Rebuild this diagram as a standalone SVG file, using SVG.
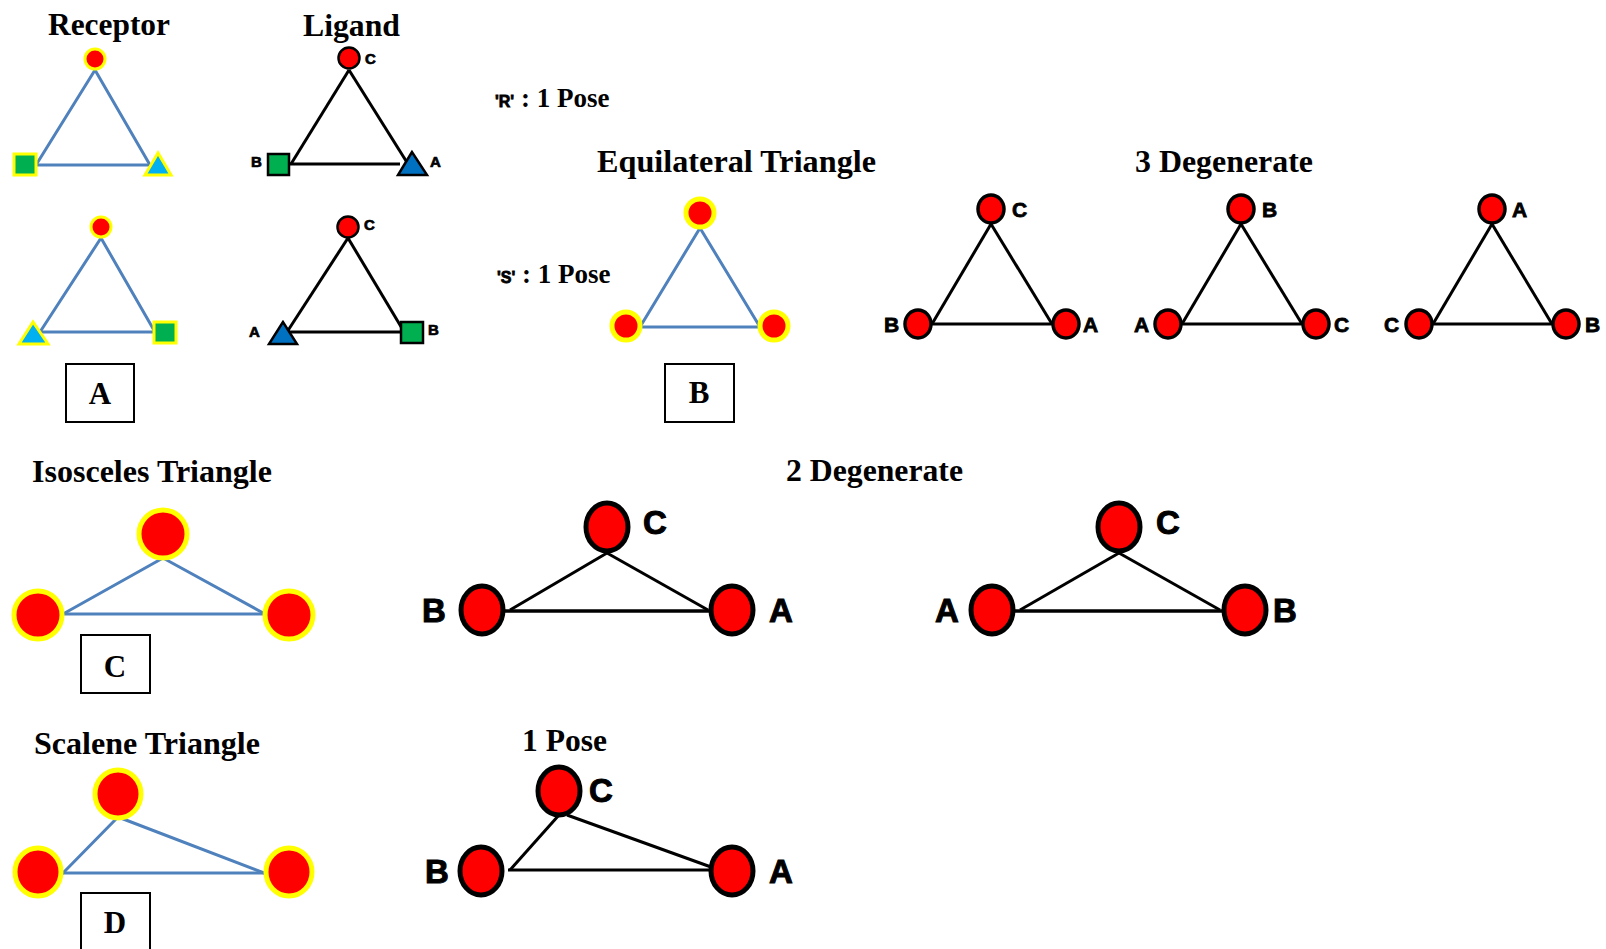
<svg xmlns="http://www.w3.org/2000/svg" width="1606" height="949" viewBox="0 0 1606 949">
<style>
.title{font-family:"Liberation Serif","Times New Roman",serif;font-weight:bold;font-size:31px;fill:#000}
.pose{font-family:"Liberation Serif","Times New Roman",serif;font-weight:bold;font-size:27px;fill:#000}
.q{font-family:"Liberation Sans",Arial,sans-serif;font-weight:bold;font-size:16px;stroke:#000;stroke-width:0.8}
.lbls{font-family:"Liberation Sans",Arial,sans-serif;font-weight:bold;font-size:15px;fill:#000;stroke:#000;stroke-width:0.7}
.lblm{font-family:"Liberation Sans",Arial,sans-serif;font-weight:bold;font-size:21px;fill:#000;stroke:#000;stroke-width:0.8}
.lblb{font-family:"Liberation Sans",Arial,sans-serif;font-weight:bold;font-size:33px;fill:#000;stroke:#000;stroke-width:1}
.boxl{font-family:"Liberation Serif","Times New Roman",serif;font-weight:bold;font-size:31px;fill:#000;text-anchor:middle}
.box{fill:#fff;stroke:#000;stroke-width:2}
.blue{stroke:#4f81bd;stroke-width:3;fill:none;stroke-linecap:round}
.blk{stroke:#000;stroke-width:3;fill:none}
.blk4{stroke:#000;stroke-width:3.5;fill:none}
.rc{fill:#ff0000;stroke:#ffff00;stroke-width:3}
.rcb{fill:#ff0000;stroke:#ffff00;stroke-width:5}
.rg{fill:#00b050;stroke:#ffff00;stroke-width:3}
.rt{fill:#00b0f0;stroke:#ffff00;stroke-width:3;stroke-linejoin:miter}
.lc{fill:#ff0000;stroke:#000;stroke-width:2.5}
.lg{fill:#00b050;stroke:#000;stroke-width:2.5}
.lt{fill:#0070c0;stroke:#000;stroke-width:2.5}
.bc{fill:#ff0000;stroke:#000;stroke-width:3.5}
.bc4{fill:#ff0000;stroke:#000;stroke-width:5}
</style>

<g id="titles">
<text class="title" x="48" y="35" textLength="122" lengthAdjust="spacingAndGlyphs">Receptor</text>
<text class="title" x="303" y="36" textLength="97" lengthAdjust="spacingAndGlyphs">Ligand</text>
<text class="pose" x="495" y="107"><tspan class="q">'R'</tspan> : 1 Pose</text>
<text class="pose" x="497" y="283"><tspan class="q">'S'</tspan> : 1 Pose</text>
<text class="title" x="597" y="172" textLength="279" lengthAdjust="spacingAndGlyphs">Equilateral Triangle</text>
<text class="title" x="1135" y="172" textLength="178" lengthAdjust="spacingAndGlyphs">3 Degenerate</text>
<text class="title" x="32" y="482" textLength="240" lengthAdjust="spacingAndGlyphs">Isosceles Triangle</text>
<text class="title" x="786" y="481" textLength="177" lengthAdjust="spacingAndGlyphs">2 Degenerate</text>
<text class="title" x="34" y="754" textLength="226" lengthAdjust="spacingAndGlyphs">Scalene Triangle</text>
<text class="title" x="522" y="751" textLength="85" lengthAdjust="spacingAndGlyphs">1 Pose</text>
</g>

<g id="connectors">
<line class="blue" x1="95" y1="70" x2="36" y2="165"/>
<line class="blue" x1="36" y1="165" x2="148" y2="165"/>
<line class="blue" x1="95" y1="70" x2="150" y2="165"/>
<line class="blk" x1="349" y1="70" x2="291" y2="164"/>
<line class="blk" x1="289" y1="164" x2="400" y2="164"/>
<line class="blk" x1="349" y1="70" x2="408" y2="164"/>
<line class="blue" x1="101" y1="238" x2="40" y2="332"/>
<line class="blue" x1="40" y1="332" x2="154" y2="332"/>
<line class="blue" x1="101" y1="238" x2="155" y2="332"/>
<line class="blk" x1="348" y1="238" x2="287" y2="332"/>
<line class="blk" x1="287" y1="332" x2="401" y2="332"/>
<line class="blk" x1="348" y1="238" x2="403" y2="330"/>
<line class="blue" x1="700" y1="228" x2="640" y2="327"/>
<line class="blue" x1="640" y1="327" x2="760" y2="327"/>
<line class="blue" x1="700" y1="228" x2="760" y2="327"/>
<line class="blk" x1="991" y1="224" x2="932" y2="324"/>
<line class="blk" x1="932" y1="324" x2="1052" y2="324"/>
<line class="blk" x1="991" y1="224" x2="1052" y2="324"/>
<line class="blk" x1="1241" y1="224" x2="1182" y2="324"/>
<line class="blk" x1="1182" y1="324" x2="1302" y2="324"/>
<line class="blk" x1="1241" y1="224" x2="1302" y2="324"/>
<line class="blk" x1="1492" y1="224" x2="1433" y2="324"/>
<line class="blk" x1="1433" y1="324" x2="1552" y2="324"/>
<line class="blk" x1="1492" y1="224" x2="1552" y2="324"/>
<line class="blue" x1="163" y1="558" x2="63" y2="614"/>
<line class="blue" x1="63" y1="614" x2="265" y2="614"/>
<line class="blue" x1="163" y1="558" x2="265" y2="614"/>
<line class="blk" x1="607" y1="553" x2="510" y2="610"/>
<line class="blk4" x1="505" y1="611" x2="712" y2="611"/>
<line class="blk" x1="607" y1="553" x2="708" y2="610"/>
<line class="blk" x1="1119" y1="553" x2="1020" y2="610"/>
<line class="blk4" x1="1015" y1="611" x2="1222" y2="611"/>
<line class="blk" x1="1119" y1="553" x2="1220" y2="610"/>
<line class="blue" x1="118" y1="817" x2="63" y2="873"/>
<line class="blue" x1="63" y1="873" x2="264" y2="873"/>
<line class="blue" x1="118" y1="817" x2="264" y2="873"/>
<line class="blk" x1="559" y1="815" x2="510" y2="870"/>
<line class="blk" x1="508" y1="870" x2="714" y2="870" stroke-width="4.5"/>
<line class="blk" x1="567" y1="815" x2="711" y2="867"/>
</g>

<g id="recR-c"><circle class="rc" cx="95" cy="59" r="10"/></g>
<g id="recR-s"><rect class="rg" x="14" y="154" width="22" height="21"/></g>
<g id="recR-t"><polygon class="rt" points="158,153 145,175 171,175"/></g>

<g id="ligT-c"><circle class="lc" cx="349" cy="58" r="10.5"/><text class="lbls" x="365" y="64">C</text></g>
<g id="ligT-b"><rect class="lg" x="268" y="154" width="21" height="21"/><text class="lbls" x="251" y="167">B</text></g>
<g id="ligT-a"><polygon class="lt" points="412,152 398,175 427,175"/><text class="lbls" x="430" y="167">A</text></g>

<g id="recS-c"><circle class="rc" cx="101" cy="227" r="10"/></g>
<g id="recS-t"><polygon class="rt" points="33,322 19,344 48,344"/></g>
<g id="recS-s"><rect class="rg" x="154" y="322" width="22" height="21"/></g>

<g id="ligB-c"><circle class="lc" cx="348" cy="227" r="10.5"/><text class="lbls" x="364" y="230">C</text></g>
<g id="ligB-a"><polygon class="lt" points="283,322 269,344 297,344"/><text class="lbls" x="249" y="337">A</text></g>
<g id="ligB-b"><rect class="lg" x="401" y="322" width="22" height="21"/><text class="lbls" x="428" y="335">B</text></g>

<g id="boxA"><rect class="box" x="66" y="364" width="68" height="58"/><text class="boxl" x="100" y="404">A</text></g>

<g id="eq-top"><circle class="rcb" cx="700" cy="213" r="14"/></g>
<g id="eq-left"><circle class="rcb" cx="626" cy="326" r="14"/></g>
<g id="eq-right"><circle class="rcb" cx="774" cy="326" r="14"/></g>
<g id="boxB"><rect class="box" x="665" y="364" width="69" height="58"/><text class="boxl" x="699" y="403">B</text></g>

<g id="d1-c"><ellipse class="bc" cx="991" cy="209" rx="13" ry="14"/><text class="lblm" x="1012" y="217">C</text></g>
<g id="d1-b"><ellipse class="bc" cx="918" cy="324" rx="13" ry="14"/><text class="lblm" x="884" y="332">B</text></g>
<g id="d1-a"><ellipse class="bc" cx="1066" cy="324" rx="13" ry="14"/><text class="lblm" x="1083" y="332">A</text></g>

<g id="d2-b"><ellipse class="bc" cx="1241" cy="209" rx="13" ry="14"/><text class="lblm" x="1262" y="217">B</text></g>
<g id="d2-a"><ellipse class="bc" cx="1168" cy="324" rx="13" ry="14"/><text class="lblm" x="1134" y="332">A</text></g>
<g id="d2-c"><ellipse class="bc" cx="1316" cy="324" rx="13" ry="14"/><text class="lblm" x="1334" y="332">C</text></g>

<g id="d3-a"><ellipse class="bc" cx="1492" cy="209" rx="13" ry="14"/><text class="lblm" x="1512" y="217">A</text></g>
<g id="d3-c"><ellipse class="bc" cx="1419" cy="324" rx="13" ry="14"/><text class="lblm" x="1384" y="332">C</text></g>
<g id="d3-b"><ellipse class="bc" cx="1566" cy="324" rx="13" ry="14"/><text class="lblm" x="1585" y="332">B</text></g>

<g id="iso-top"><circle class="rcb" cx="163" cy="534" r="24"/></g>
<g id="iso-left"><circle class="rcb" cx="38" cy="615" r="24"/></g>
<g id="iso-right"><circle class="rcb" cx="289" cy="615" r="24"/></g>
<g id="boxC"><rect class="box" x="81" y="635" width="69" height="58"/><text class="boxl" x="115" y="677">C</text></g>

<g id="e1-c"><ellipse class="bc4" cx="607" cy="527" rx="21" ry="24"/><text class="lblb" x="643" y="534">C</text></g>
<g id="e1-b"><ellipse class="bc4" cx="482" cy="610" rx="21" ry="24"/><text class="lblb" x="422" y="622">B</text></g>
<g id="e1-a"><ellipse class="bc4" cx="732" cy="610" rx="21" ry="24"/><text class="lblb" x="769" y="622">A</text></g>

<g id="e2-c"><ellipse class="bc4" cx="1119" cy="527" rx="21" ry="24"/><text class="lblb" x="1156" y="534">C</text></g>
<g id="e2-a"><ellipse class="bc4" cx="992" cy="610" rx="21" ry="24"/><text class="lblb" x="935" y="622">A</text></g>
<g id="e2-b"><ellipse class="bc4" cx="1245" cy="610" rx="21" ry="24"/><text class="lblb" x="1273" y="622">B</text></g>

<g id="sc-top"><ellipse class="rcb" cx="118" cy="794" rx="23" ry="24"/></g>
<g id="sc-left"><ellipse class="rcb" cx="38" cy="872" rx="23" ry="24"/></g>
<g id="sc-right"><ellipse class="rcb" cx="289" cy="872" rx="23" ry="24"/></g>
<g id="boxD"><rect class="box" x="81" y="893" width="69" height="62"/><text class="boxl" x="115" y="933">D</text></g>

<g id="p-c"><ellipse class="bc4" cx="559" cy="791" rx="21" ry="24"/><text class="lblb" x="589" y="802">C</text></g>
<g id="p-b"><ellipse class="bc4" cx="481" cy="871" rx="21" ry="24"/><text class="lblb" x="425" y="883">B</text></g>
<g id="p-a"><ellipse class="bc4" cx="732" cy="871" rx="21" ry="24"/><text class="lblb" x="769" y="883">A</text></g>
</svg>
